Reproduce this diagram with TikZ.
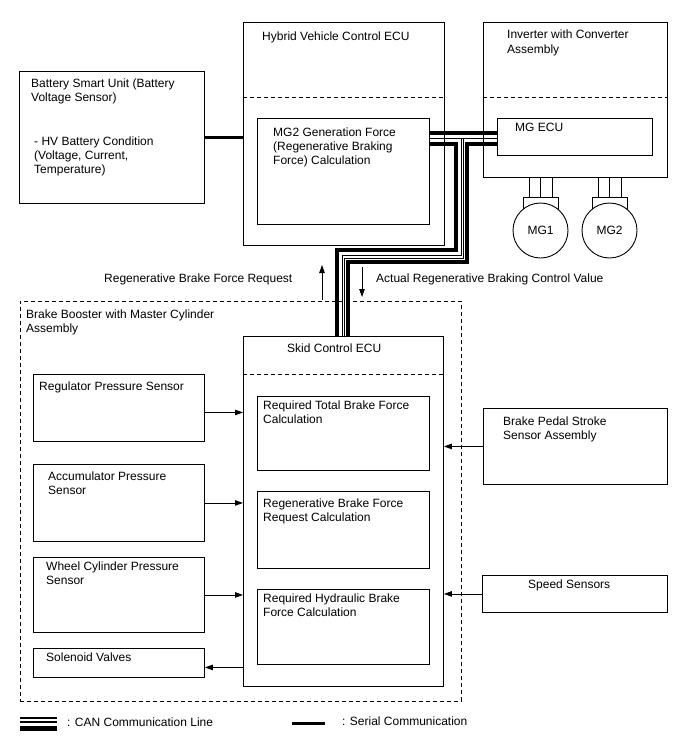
\documentclass[tikz,border=0pt]{standalone}
\usepackage{fontspec}
\setmainfont{Liberation Sans}
\usetikzlibrary{arrows.meta}
\begin{document}
\begin{tikzpicture}[x=1pt,y=-1pt,
  box/.style={draw, line width=0.9pt, anchor=north west, inner sep=0pt},
  txt/.style={anchor=north west, inner sep=0pt, align=left, font=\fontsize{12}{14.2}\selectfont},
  dsh/.style={line width=0.9pt, dash pattern=on 4pt off 3pt},
  arr/.style={line width=0.9pt, -{Triangle[length=8pt,width=5.5pt]}},
  thk/.style={line width=3.5pt},
  thn/.style={line width=1pt},
  motor/.style={draw, circle, line width=0.9pt, minimum size=55pt, inner sep=0pt, fill=white, font=\fontsize{12}{14}\selectfont},
]
\fill[white] (0,0) rectangle (688,755);
\useasboundingbox (0,0) rectangle (688,755);

% ---- top row ----
\node[box, minimum width=185pt, minimum height=132pt] (bsu) at (19,71) {};
\node[txt] (bsut1) at (31,78.6) {Battery Smart Unit (Battery\\Voltage Sensor)};
\node[txt] (bsut2) at (34,136.3) {- HV Battery Condition\\(Voltage, Current,\\Temperature)};

\node[box, minimum width=201pt, minimum height=223pt] (hv) at (243,22) {};
\node[txt] (hvt) at (262,31.6) {Hybrid Vehicle Control ECU};
\draw[dsh] (hv.west |- 0,97) -- (hv.east |- 0,97);
\node[box, minimum width=172pt, minimum height=106pt] (mg2c) at (257,118) {};
\node[txt] (mg2ct) at (273,127.6) {MG2 Generation Force\\(Regenerative Braking\\Force) Calculation};

\node[box, minimum width=184pt, minimum height=155pt] (inv) at (483,22) {};
\node[txt, font=\fontsize{12}{15}\selectfont] (invt) at (507,29.6) {Inverter with Converter\\Assembly};
\draw[dsh] (inv.west |- 0,97) -- (inv.east |- 0,97);
\node[box, minimum width=155pt, minimum height=37pt] (mgecu) at (497,118) {};
\node[txt] (mgecut) at (515,122.6) {MG ECU};

% motor connectors
\draw[line width=0.9pt] (529,177) -- (529,197) (540.5,177) -- (540.5,197) (552,177) -- (552,197);
\draw[line width=0.9pt] (523,212) -- (523,197) -- (558,197) -- (558,212);
\draw[line width=0.9pt] (598,177) -- (598,197) (609.5,177) -- (609.5,197) (621,177) -- (621,197);
\draw[line width=0.9pt] (592,212) -- (592,197) -- (627,197) -- (627,212);
\node[motor] (mg1) at (540.5,230.5) {MG1};
\node[motor] (mg2) at (609.5,230.5) {MG2};

% serial line battery -> HV ECU
\draw[line width=3pt] (bsu.east |- 0,137) -- (hv.west |- 0,137);

% ---- CAN lines ----
\draw[thk] (mg2c.east |- 0,133) -- (mgecu.west |- 0,133);
\draw[thn] (mg2c.east |- 0,138) -- (mgecu.west |- 0,138);
\draw[thk] (mg2c.east |- 0,144) -- (456,144) -- (456,250) -- (337,250) -- (337,336);
\draw[thn] (461,138) -- (461,255) -- (342,255) -- (342,336);
\draw[thk] (mgecu.west |- 0,144) -- (467,144) -- (467,262) -- (348,262) -- (348,336);
\draw[thn] (463,138) -- (463,258) -- (344,258) -- (344,336);

% request arrows
\coordinate (rq1) at (322,300);
\coordinate (rq2) at (322,265);
\coordinate (av1) at (362,267);
\coordinate (av2) at (362,297);
\draw[arr] (rq1) -- (rq2);
\draw[arr] (av1) -- (av2);
\node[txt] (rqt) at (104,273.6) {Regenerative Brake Force Request};
\node[txt] (avt) at (376,273.6) {Actual Regenerative Braking Control Value};

% ---- brake booster ----
\node[box, dsh, minimum width=441pt, minimum height=400pt] (bb) at (20,301) {};
\node[txt] (bbt) at (26,309.6) {Brake Booster with Master Cylinder\\Assembly};

\node[box, minimum width=200pt, minimum height=350pt] (skid) at (243,336) {};
\node[txt] (skidt) at (287,343.6) {Skid Control ECU};
\draw[dsh] (skid.west |- 0,374) -- (skid.east |- 0,374);

\node[box, minimum width=172pt, minimum height=74pt] (rtb) at (257,396) {};
\node[txt] (rtbt) at (263,400.6) {Required Total Brake Force\\Calculation};
\node[box, minimum width=172pt, minimum height=77pt] (rbr) at (257,491) {};
\node[txt] (rbrt) at (263,498.6) {Regenerative Brake Force\\Request Calculation};
\node[box, minimum width=172pt, minimum height=75pt] (rhb) at (257,589) {};
\node[txt] (rhbt) at (263,593.6) {Required Hydraulic Brake\\Force Calculation};

\node[box, minimum width=171pt, minimum height=67pt] (reg) at (33,374) {};
\node[txt] (regt) at (39,381.6) {Regulator Pressure Sensor};
\node[box, minimum width=171pt, minimum height=77pt] (acc) at (33,464) {};
\node[txt] (acct) at (48,471.6) {Accumulator Pressure\\Sensor};
\node[box, minimum width=171pt, minimum height=75pt] (wcp) at (33,557) {};
\node[txt] (wcpt) at (46,561.6) {Wheel Cylinder Pressure\\Sensor};
\node[box, minimum width=171pt, minimum height=29pt] (sol) at (33,648) {};
\node[txt] (solt) at (46,652.6) {Solenoid Valves};

\node[box, minimum width=184pt, minimum height=76pt] (bps) at (483,408) {};
\node[txt] (bpst) at (503,416.6) {Brake Pedal Stroke\\Sensor Assembly};
\node[box, minimum width=185pt, minimum height=37pt] (spd) at (482,575) {};
\node[txt] (spdt) at (528,579.6) {Speed Sensors};

% signal arrows
\draw[arr] ([yshift=-4.5pt]reg.east) -- ([yshift=-4.5pt]reg.east -| skid.west);
\draw[arr] (acc.east) -- (acc.east -| skid.west);
\draw[arr] (wcp.east) -- (wcp.east -| skid.west);
\draw[arr] ([yshift=-4.5pt]sol.east -| skid.west) -- ([yshift=-4.5pt]sol.east);
\draw[arr] (bps.west) -- (bps.west -| skid.east);
\draw[arr] (spd.west) -- (spd.west -| skid.east);

% ---- legend ----
\coordinate (lc1) at (20,0);
\coordinate (lc2) at (57,0);
\draw[line width=2pt] (lc1 |- 0,718.3) -- (lc2 |- 0,718.3);
\draw[line width=1.7pt] (lc1 |- 0,721.8) -- (lc2 |- 0,721.8);
\draw[line width=4.5pt] (lc1 |- 0,728.3) -- (lc2 |- 0,728.3);
\node[txt] (lct) at (67,717.6) {: CAN Communication Line};
\coordinate (ls1) at (292,723);
\coordinate (ls2) at (325,723);
\draw[line width=3pt] (ls1) -- (ls2);
\node[txt] (lst) at (342,716.6) {: Serial Communication};
\end{tikzpicture}
\end{document}
